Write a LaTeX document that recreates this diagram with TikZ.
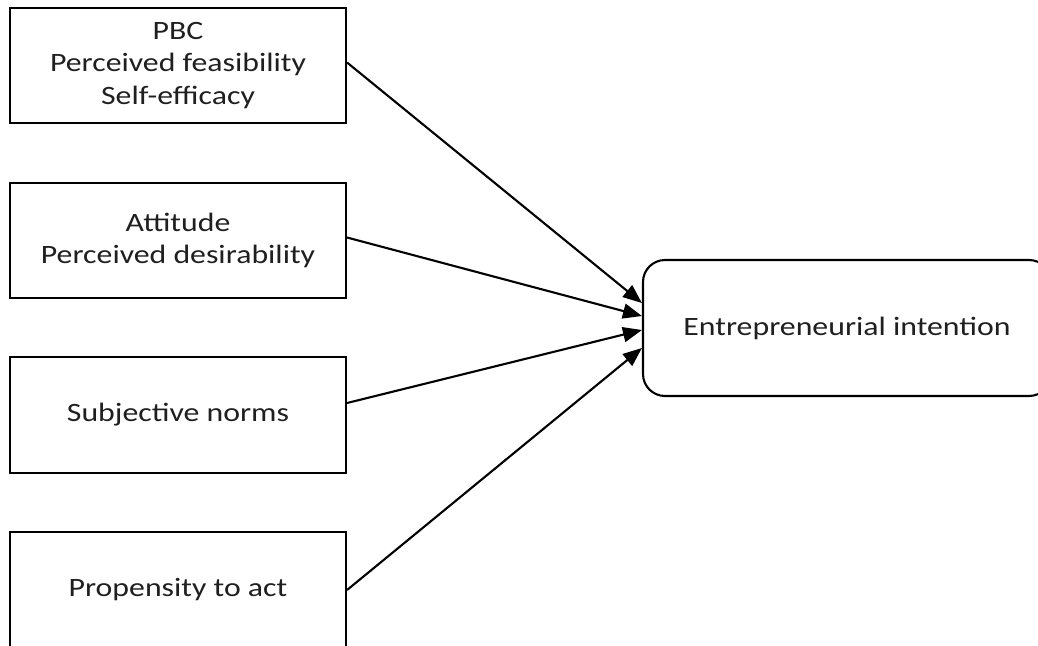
\documentclass[tikz,border=0pt]{standalone}
\usepackage{fontspec}
\setmainfont{Carlito}[FakeStretch=1.2]
\usetikzlibrary{arrows.meta}

\begin{document}
\begin{tikzpicture}[x=1pt,y=-1pt]
  \tikzset{FactorStyle/.style={draw, line width=2.1pt, minimum width=336pt,
             minimum height=115pt, align=center, inner sep=0pt,
             text=black!88, font=\fontsize{26.5}{32.5}\selectfont},
           IntentStyle/.style={FactorStyle, rounded corners=22pt,
             minimum width=408pt, minimum height=136pt},
           EdgeStyle/.style={line width=2.1pt,
             -{Triangle[length=19pt,width=15pt]}}}
  \useasboundingbox (0,0) rectangle (1038,645);
  %% PBC, attitude, norms, propensity -> intention
  \node[FactorStyle] (pbc) at (178,65.5) {PBC\\Perceived feasibility\\Self-efficacy};
  \node[FactorStyle] (att) at (178,240.5) {Attitude\\Perceived desirability};
  \node[FactorStyle, minimum height=116pt] (sn) at (178,415) {Subjective norms};
  \node[FactorStyle, minimum height=116pt] (pta) at (178,590) {Propensity to act};
  \node[IntentStyle] (ei) at (847,328) {Entrepreneurial intention};
  \draw[EdgeStyle] ([yshift=3pt]pbc.east) -- ([yshift=25pt]ei.west);
  \draw[EdgeStyle] ([yshift=3pt]att.east) -- ([yshift=12pt]ei.west);
  \draw[EdgeStyle] ([yshift=12pt]sn.east) -- ([yshift=-2pt]ei.west);
  \draw[EdgeStyle] (pta.east) -- ([yshift=-20pt]ei.west);
\end{tikzpicture}
\end{document}
